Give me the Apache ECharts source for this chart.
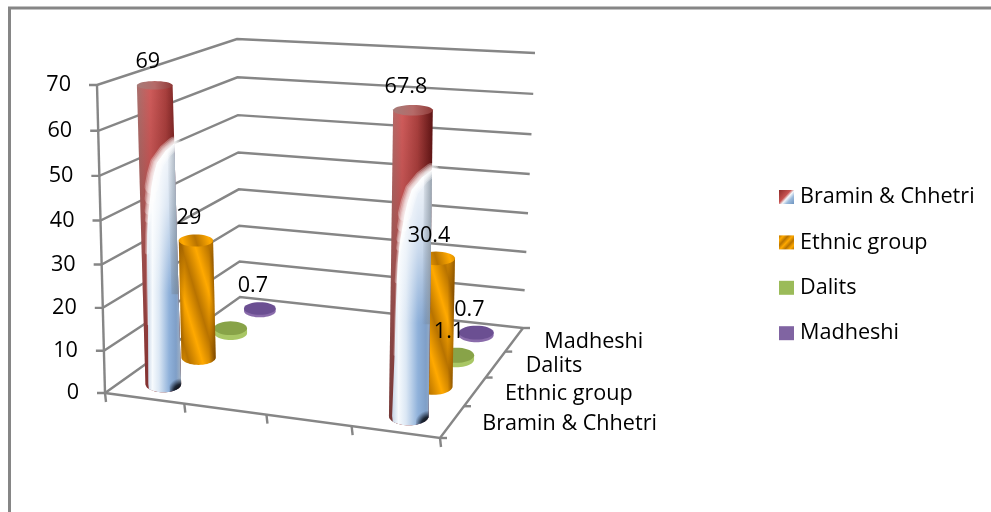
<!DOCTYPE html>
<html>
<head>
<meta charset="utf-8">
<style>html,body{margin:0;padding:0;background:#fff}#chart{width:991px;height:512px}</style>
<script src="https://cdn.jsdelivr.net/npm/echarts@6/dist/echarts.min.js"></script>
</head>
<body>
<div id="chart"></div>
<script>
// Share of population by group, two clusters drawn as 3D cylinders
const categories = ['', '', '', ''];
const yTicks = [0, 10, 20, 30, 40, 50, 60, 70];
const groupNames = ['Bramin & Chhetri', 'Ethnic group', 'Dalits', 'Madheshi'];
const braminValues = [69, null, null, 67.8];
const ethnicValues = [29, null, null, 30.4];
const dalitValues = [1.3, null, null, 1.1];
const madheshiValues = [0.7, null, null, 0.7];
const dalitLabels = ['', '', '', '1.1'];
const FONT = '"Open Sans"';
const FONT_SIZE = 21.6;
const LINE = '#868686';

// Perspective box: floor and ceiling quads as front-left, front-right, back-right, back-left
const floorQuad = [[105, 393], [440, 438], [523, 328], [240, 297]];
const ceilQuad = [[97, 85], [451, 113], [535, 53], [237, 39]];
const HEIGHT_BEND = -0.045;

function homography(q) {
  const [[x0, y0], [x1, y1], [x2, y2], [x3, y3]] = q;
  const dx1 = x1 - x2, dx2 = x3 - x2, sx = x0 - x1 + x2 - x3;
  const dy1 = y1 - y2, dy2 = y3 - y2, sy = y0 - y1 + y2 - y3;
  const den = dx1 * dy2 - dx2 * dy1;
  const g = (sx * dy2 - dx2 * sy) / den, h = (dx1 * sy - sx * dy1) / den;
  const a = x1 - x0 + g * x1, b = x3 - x0 + h * x3, d = y1 - y0 + g * y1, e = y3 - y0 + h * y3;
  return (u, v) => {
    const w = g * u + h * v + 1;
    return [(a * u + b * v + x0) / w, (d * u + e * v + y0) / w];
  };
}
const floorH = homography(floorQuad);
const ceilH = homography(ceilQuad);

// u: along the category axis, v: into the depth axis, t: share of the value axis (all 0..1)
function project(u, v, t) {
  const p0 = floorH(u, v), p1 = ceilH(u, v);
  const f = t * (1 + HEIGHT_BEND) / (1 + HEIGHT_BEND * t);
  return [p0[0] + (p1[0] - p0[0]) * f, p0[1] + (p1[1] - p0[1]) * f];
}
function unitX(api, params, i) {
  const s = params.coordSys;
  return (api.coord([i, 0])[0] - s.x) / s.width;
}
function unitY(api, params, val) {
  const s = params.coordSys;
  return (s.y + s.height - api.coord([0, val])[1]) / s.height;
}
const lg = (x, y, x2, y2, stops, global) =>
  new echarts.graphic.LinearGradient(x, y, x2, y2, stops.map(([offset, color]) => ({ offset, color })), global);

function ellipsePoints(c, rx, ry, from, to, n) {
  const pts = [];
  for (let i = 0; i <= n; i++) {
    const a = from + (to - from) * i / n;
    pts.push([c[0] + rx * Math.cos(a), c[1] + ry * Math.sin(a)]);
  }
  return pts;
}
const poly = (points, fill, z2) => ({ type: 'polygon', silent: true, z2, shape: { points }, style: { fill } });

function valueLabel(text, top) {
  return {
    type: 'text', silent: true, z2: 100,
    style: { text, x: top[0] - 7, y: top[1] - 23, align: 'center', verticalAlign: 'middle',
      font: FONT_SIZE + 'px ' + FONT, fill: '#000' }
  };
}

// Where the red upper skin gives way to the pale lower skin, as [height share, width share]
const skinEdge = [[0.805, 1], [0.78, 0.75], [0.74, 0.5], [0.70, 0.4], [0.66, 0.33], [0.62, 0.28], [0.58, 0.23], [0.55, 0.2], [0.5, 0.17], [0.44, 0.15], [0.32, 0.13], [0.2, 0.12], [0, 0.08]];
// Feathered rim strokes: line width and how many boundary points each one follows
const rimStrokes = [[14, 5], [11, 6], [8, 7], [6, 8], [4, 10], [2, 12]];

function braminBody(g, base, top, rx, ryB, z) {
  const at = (s, t) => {
    const cx = base[0] + (top[0] - base[0]) * t, cy = base[1] + (top[1] - base[1]) * t;
    return [cx + (2 * s - 1) * rx, cy];
  };
  const lowerArc = ellipsePoints(base, rx, ryB, Math.PI, 0, 24);
  const body = [at(0, 1), ...lowerArc, at(1, 1)];
  g.push(poly(body, lg(0, 0, 1, 0, [[0, '#a9706d'], [0.3, '#cf5c5b'], [0.65, '#a9403e'], [1, '#5e1414']]), z));
  g.push(poly(body, lg(0, 0, 0, 1, [[0, 'rgba(60,0,0,0)'], [0.55, 'rgba(60,0,0,0.25)'], [1, 'rgba(60,0,0,0.5)']]), z + 1));

  const edge = skinEdge.map(([t, s]) => at(s, t));
  const paleArc = ellipsePoints(base, rx, ryB, Math.PI * 0.8, 0, 20);
  const pale = [...edge, ...paleArc];
  g.push(poly(pale, lg(0, 0, 1, 0, [[0, '#c6d4e6'], [0.16, '#f6fafd'], [0.35, '#dbe7f4'], [0.65, '#8fb1da'], [0.85, '#7f9fc8'], [1, '#a4b2c2']]), z + 2));
  g.push(poly(pale, lg(0, 0, 0, 1, [[0, 'rgba(255,255,255,0.9)'], [0.25, 'rgba(255,255,255,0.65)'], [0.6, 'rgba(255,255,255,0)'], [1, 'rgba(255,255,255,0)']]), z + 3));
  // Grey flank down the upper part of the pale skin
  const flank = [at(0.8, 0.8), at(1, 0.8), at(1, 0.3), at(0.8, 0.3)];
  g.push(poly(flank, lg(0, 0, 1, 0, [[0, 'rgba(120,135,150,0)'], [1, 'rgba(120,135,150,0.75)']]), z + 3));
  // Soft rim along the skin boundary, narrowing toward the foot
  rimStrokes.forEach(([w, count]) => g.push({
    type: 'polyline', silent: true, z2: z + 4, shape: { points: edge.slice(0, count) },
    style: { stroke: 'rgba(255,255,255,0.3)', fill: null, lineWidth: w, lineCap: 'round', lineJoin: 'round' }
  }));
  // Dark corner at the foot of the column
  const foot = [at(0.62, 0.1), at(1, 0.1), ...ellipsePoints(base, rx, ryB, 0, Math.PI * 0.38, 8)];
  g.push(poly(foot, new echarts.graphic.RadialGradient(1, 1, 0.95, [
    { offset: 0, color: 'rgba(0,0,0,1)' }, { offset: 0.55, color: 'rgba(10,15,25,0.85)' }, { offset: 1, color: 'rgba(30,40,60,0)' }
  ]), z + 5));
}

function stripeFill(center) {
  const d = [0.958, -0.287], half = 52, period = 26, stops = [];
  const n = Math.round(2 * half / period);
  for (let i = 0; i < n; i++) {
    stops.push([i / n, '#b87300'], [(i + 0.5) / n, '#ffa900']);
  }
  stops.push([1, '#b87300']);
  return lg(center[0] - d[0] * half, center[1] - d[1] * half, center[0] + d[0] * half, center[1] + d[1] * half, stops, true);
}

function cylinderItem(seriesPos, labels) {
  return function (params, api) {
    const cat = api.value(0), val = api.value(1);
    const u = unitX(api, params, cat), v = (seriesPos + 0.5) / groupNames.length;
    const t = unitY(api, params, val);
    const base = project(u, v, 0), top = project(u, v, t);
    const rx = 0.23 * (project(u + 0.125, v, 0)[0] - project(u - 0.125, v, 0)[0]);
    const ry = (h) => 0.3 * (project(u, v - 0.125, h)[1] - project(u, v + 0.125, h)[1]);
    const ryB = ry(0), ryT = ry(t);
    const z = (groupNames.length - seriesPos) * 10;
    const g = [];
    const capFull = ellipsePoints(top, rx, ryT, 0, Math.PI * 2, 36);
    const bodyOutline = [[top[0] - rx, top[1]], ...ellipsePoints(base, rx, ryB, Math.PI, 0, 24), [top[0] + rx, top[1]]];
    if (seriesPos === 0) {
      braminBody(g, base, top, rx, ryB, z - 8);
      g.push(poly(capFull, lg(0, 0, 1, 0, [[0, '#a67b78'], [0.5, '#b56a68'], [1, '#8f3a38']]), z));
    } else if (seriesPos === 1) {
      const mid = [(base[0] + top[0]) / 2, (base[1] + top[1]) / 2];
      g.push(poly(bodyOutline, stripeFill(mid), z - 3));
      g.push(poly(bodyOutline, lg(0, 0, 1, 0, [[0, 'rgba(110,60,0,0.45)'], [0.16, 'rgba(110,60,0,0)'], [0.82, 'rgba(110,60,0,0)'], [1, 'rgba(80,40,0,0.6)']]), z - 2));
      g.push(poly(capFull, stripeFill(top), z));
    } else {
      const rim = seriesPos === 2 ? '#a9c765' : '#8a6cab';
      const face = seriesPos === 2 ? '#88a348' : '#6b4f92';
      g.push(poly(bodyOutline, rim, z - 3));
      g.push(poly(capFull, face, z));
    }
    g.push(valueLabel(labels ? labels[params.dataIndex] : String(val), top));
    return { type: 'group', children: g };
  };
}

const gridLine = (points) => ({
  type: 'polyline', silent: true, z2: 1, shape: { points },
  style: { stroke: LINE, fill: null, lineWidth: 2.4 }
});

// Wall lines, value ticks and value labels for one tick of the value axis
function wallItem(params, api) {
  const val = api.value(1), t = unitY(api, params, val);
  const a = project(0, 0, t), b = project(0, 1, t), c = project(1, 1, t);
  return {
    type: 'group',
    children: [
      gridLine([[a[0] - 8, a[1]], a, b, c]),
      {
        type: 'text', silent: true, z2: 2,
        style: { text: String(val), x: a[0] - 26, y: a[1], align: 'right', verticalAlign: 'middle',
          font: FONT_SIZE + 'px ' + FONT, fill: '#000' }
      }
    ]
  };
}

// Floor edges with the ticks of the category and depth axes, plus the depth labels
function floorItem(params, api) {
  const i = params.dataIndex, n = categories.length;
  const band = api.size([1, 0])[0] / params.coordSys.width;
  const left = unitX(api, params, i) - band / 2;
  const p = project(left, 0, 0), kids = [gridLine([p, [p[0] + 1, p[1] + 9]])];
  const v0 = i / n, q = project(1, v0, 0);
  kids.push(gridLine([q, [q[0] + 7, q[1]]]));
  const m = project(1, (i + 0.5) / n, 0);
  kids.push({
    type: 'text', silent: true, z2: 2,
    style: { text: groupNames[i], x: m[0] + 30, y: m[1] + 2, align: 'left', verticalAlign: 'middle',
      font: FONT_SIZE + 'px ' + FONT, fill: '#000' }
  });
  if (i === n - 1) {
    const fr = project(1, 0, 0), br = project(1, 1, 0), fl = project(0, 0, 0);
    kids.push(gridLine([fl, fr, br]));
    kids.push(gridLine([fr, [fr[0] + 1, fr[1] + 9]]));
    kids.push(gridLine([br, [br[0] + 7, br[1]]]));
    // Value axis upright at the front-left corner
    kids.push(gridLine([project(0, 0, 1), fl]));
  }
  return { type: 'group', children: kids };
}

const pairs = (values) => values.map((y, x) => (y === null ? null : [x, y])).filter(Boolean);
const legendFills = [
  lg(0, 0, 1, 1, [[0, '#8e2a28'], [0.42, '#c65250'], [0.56, '#f4f6f9'], [0.72, '#9dbcdd'], [1, '#6d93bf']]),
  lg(0, 0, 1, 1, [[0, '#b87300'], [0.17, '#ffa900'], [0.34, '#b87300'], [0.5, '#ffa900'], [0.67, '#b87300'], [0.84, '#ffa900'], [1, '#b87300']]),
  '#9bbb59',
  '#8064a2'
];
const seriesValues = [braminValues, ethnicValues, dalitValues, madheshiValues];

const chart = echarts.init(document.getElementById('chart'), null, { renderer: 'canvas' });
chart.setOption({
  animation: false,
  backgroundColor: '#fff',
  grid: { left: 100, width: 400, top: 80, height: 300 },
  xAxis: { type: 'category', data: categories, show: false },
  yAxis: { type: 'value', min: 0, max: 70, interval: 10, show: false },
  legend: {
    left: 774, top: 181, orient: 'vertical', icon: 'rect', selectedMode: false,
    itemWidth: 15, itemHeight: 14, itemGap: 23.4,
    textStyle: { fontFamily: FONT, fontSize: FONT_SIZE, color: '#000', padding: [0, 0, 0, 1] },
    data: groupNames.map((name, i) => ({ name, itemStyle: { color: legendFills[i] } }))
  },
  graphic: [{
    type: 'polyline', silent: true,
    shape: { points: [[9.5, 512], [9.5, 8], [991, 8]] },
    style: { stroke: LINE, lineWidth: 3, fill: null }
  }],
  series: [
    { type: 'custom', name: 'walls', coordinateSystem: 'cartesian2d', silent: true, renderItem: wallItem, data: yTicks.map((y) => [0, y]) },
    { type: 'custom', name: 'floor', coordinateSystem: 'cartesian2d', silent: true, renderItem: floorItem, data: categories.map((c, i) => [i, 0]) },
    ...groupNames.map((name, i) => ({
      type: 'custom', name, coordinateSystem: 'cartesian2d', silent: true,
      itemStyle: { color: legendFills[i] },
      renderItem: cylinderItem(i, i === 2 ? dalitLabels.filter((_, k) => seriesValues[2][k] !== null) : null),
      data: pairs(seriesValues[i])
    }))
  ]
});
</script>
</body>
</html>
